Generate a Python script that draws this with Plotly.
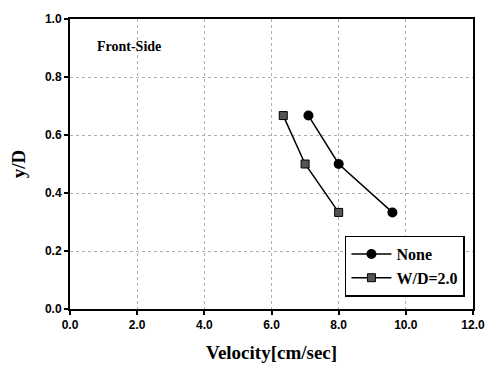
import plotly.graph_objects as go

none_x = [7.1, 8.0, 9.6]
none_y = [0.667, 0.5, 0.333]
wd_x = [6.35, 7.0, 8.0]
wd_y = [0.667, 0.5, 0.333]
x_ticks = [0, 2, 4, 6, 8, 10, 12]
x_labels = ["0.0", "2.0", "4.0", "6.0", "8.0", "10.0", "12.0"]
y_ticks = [0, 0.2, 0.4, 0.6, 0.8, 1.0]
y_labels = ["0.0", "0.2", "0.4", "0.6", "0.8", "1.0"]

fig = go.Figure()
fig.add_trace(go.Scatter(x=none_x, y=none_y, mode="lines+markers", name="None",
                         line=dict(color="black", width=1.5),
                         marker=dict(symbol="circle", size=10, color="black")))
fig.add_trace(go.Scatter(x=wd_x, y=wd_y, mode="lines+markers", name="W/D=2.0",
                         line=dict(color="black", width=1.5, dash="solid"),
                         marker=dict(symbol="square", size=8, color="#555555",
                                     line=dict(color="black", width=1))))

axis_common = dict(showline=True, linecolor="black", linewidth=2, mirror=True,
                   ticks="outside", ticklen=4, tickcolor="black", tickwidth=1.5,
                   showgrid=True, gridcolor="#b0b0b0", griddash="dot", gridwidth=1,
                   zeroline=False,
                   tickfont=dict(family="Liberation Sans", size=12, color="black", weight="bold"))

fig.update_xaxes(range=[0, 12], tickvals=x_ticks, ticktext=x_labels,
                 title=dict(text="Velocity[cm/sec]", standoff=14,
                            font=dict(family="Liberation Serif", size=19, color="black", weight="bold")),
                 **axis_common)
fig.update_yaxes(range=[0, 1.0], tickvals=y_ticks, ticktext=y_labels,
                 title=dict(text="y/D", standoff=14,
                            font=dict(family="Liberation Serif", size=19, color="black", weight="bold")),
                 **axis_common)

fig.add_annotation(x=1.76, y=0.906, text="Front-Side", showarrow=False,
                   font=dict(family="Liberation Serif", size=14, color="black", weight="bold"))

fig.update_layout(
    width=497, height=372,
    margin=dict(l=70, r=14, t=12, b=61),
    paper_bgcolor="white", plot_bgcolor="white",
    showlegend=True,
    legend=dict(x=0.98, y=0.043, xanchor="right", yanchor="bottom",
                bgcolor="white", bordercolor="black", borderwidth=1.5,
                font=dict(family="Liberation Serif", size=16, color="black", weight="bold"),
                tracegroupgap=0, itemwidth=40),
)

fig.write_html("out.html")
